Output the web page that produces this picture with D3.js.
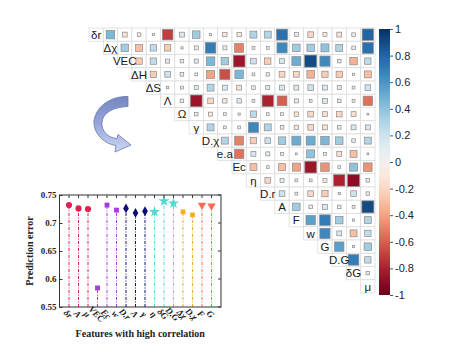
<!DOCTYPE html>
<html>
<head>
<meta charset="utf-8">
<script src="https://cdn.jsdelivr.net/npm/d3@7"></script>
<style>
body { margin: 0; background: #fff; }
svg { display: block; }
</style>
</head>
<body>
<svg id="chart" width="464" height="354"></svg>
<script>
// ---- data ----
const features = ["δr","Δχ","VEC","ΔH","ΔS","Λ","Ω","γ","D.χ","e.a","Ec","η","D.r","A","F","w","G","D.G","δG","μ"];

// upper triangle: row i holds r(i, j) for j = i+1 .. 19
const corrRows = [
  [0.45,-0.15,-0.08,0.03,-0.7,0.15,0.35,0.03,-0.12,-0.12,0.3,0.3,0.75,0.1,-0.2,-0.1,-0.15,0.08,0.8],
  [0.35,-0.3,0.25,-0.25,0.03,0.1,0.7,0.1,-0.5,0.05,0.05,0.65,0.35,0.35,0.4,0.3,0.08,0.75],
  [-0.25,0.25,0.1,0.08,0.1,0.45,0.35,-0.85,0.2,-0.25,0.15,0.5,0.9,0.65,0.08,-0.35,0.25],
  [-0.25,0.2,0.08,0.05,-0.4,-0.65,0.45,0.05,0.07,-0.2,-0.2,-0.35,-0.25,-0.25,0.03,-0.3],
  [0.03,0.05,0.1,0.3,0.15,-0.15,0.08,0.1,0.15,0.15,0.2,0.15,0.1,0.05,0.2],
  [0.08,-0.85,-0.2,-0.12,0.12,0.05,-0.8,-0.6,0.1,0.05,0.15,0.08,0.05,-0.55],
  [0.08,-0.1,0.05,0.03,0.25,0.05,0.05,-0.12,-0.2,-0.15,-0.2,-0.15,0.02],
  [0.3,0.05,0.05,0.65,0.3,0.08,-0.12,-0.2,-0.15,0.08,0.15,0.15],
  [0.3,-0.5,-0.25,0.2,0.35,0.5,0.5,0.45,0.35,0.08,0.3],
  [-0.55,0.15,0.1,0.05,0.02,0.4,0.05,-0.15,-0.3,0.02],
  [-0.3,0.05,-0.3,-0.4,-0.85,-0.45,0.05,0.4,-0.45],
  [-0.2,0.1,0.05,0.05,-0.1,-0.8,-0.9,0.08],
  [0.2,0.05,-0.2,-0.25,0.03,0.2,0.08],
  [0.35,0.08,0.15,0.08,0.05,0.9],
  [0.55,0.7,0.35,0.03,0.3],
  [0.65,0.15,-0.3,0.25],
  [0.55,0.03,0.35],
  [0.7,0.25],
  [0.08]
];

const cbTicks = [1,0.8,0.6,0.4,0.2,0,-0.2,-0.4,-0.6,-0.8,-1];

const lolliFeatures = ["δr","A","μ","VEC","Ec","w","D.r","Λ","γ","η","δG","D.G","Δχ","D.χ","F","G"];
const lolliErrors   = [0.732,0.726,0.725,0.584,0.732,0.723,0.726,0.718,0.721,0.720,0.739,0.735,0.720,0.7145,0.732,0.7305];
const lolliGroups   = [0,0,0,1,1,1,2,2,2,3,3,3,4,4,5,5];
const groupColors   = ["#e0224e","#a23de0","#0a0f7a","#4fd9cf","#f6ab1f","#ff6a55"];
const errTicks = [0.55,0.6,0.65,0.7,0.75];

const svg = d3.select("#chart");

// ---- correlation matrix ----
const x = d3.scaleBand().domain(d3.range(20)).range([89, 375]);
const y = d3.scaleBand().domain(d3.range(20)).range([28, 293]);
const color = d3.scaleSequential(d3.interpolateRdBu).domain([-1, 1]);

const cells = [];
corrRows.forEach((row, i) => {
  row.forEach((v, k) => cells.push({i: i, j: i + 1 + k, v: v}));
});

const gm = svg.append("g");

// grid of upper triangle (incl. diagonal)
const gridCells = [];
for (let i = 0; i < 20; i++) for (let j = i; j < 20; j++) gridCells.push({i, j});
gm.selectAll("rect.grid")
  .data(gridCells)
  .join("rect")
    .attr("class", "grid")
    .attr("x", d => x(d.j))
    .attr("y", d => y(d.i))
    .attr("width", x.bandwidth())
    .attr("height", y.bandwidth())
    .attr("fill", "#fff")
    .attr("stroke", "#dcdcdc")
    .attr("stroke-width", 0.8);

const maxSide = Math.min(x.bandwidth(), y.bandwidth()) - 0.6;
const side = d => maxSide * Math.sqrt(Math.abs(d.v));
gm.selectAll("rect.sq")
  .data(cells)
  .join("rect")
    .attr("class", "sq")
    .attr("x", d => x(d.j) + x.bandwidth() / 2 - side(d) / 2)
    .attr("y", d => y(d.i) + y.bandwidth() / 2 - side(d) / 2)
    .attr("width", side)
    .attr("height", side)
    .attr("fill", d => color(d.v))
    .attr("stroke", "#8a8a8a")
    .attr("stroke-width", 0.7);

gm.selectAll("text.lab")
  .data(features)
  .join("text")
    .attr("class", "lab")
    .attr("x", (d, i) => x(i) + x.bandwidth() / 2)
    .attr("y", (d, i) => y(i) + y.bandwidth() / 2)
    .attr("dy", "0.36em")
    .attr("text-anchor", "middle")
    .attr("font-family", "Liberation Sans, Arial, sans-serif")
    .attr("font-size", 11.5)
    .attr("fill", "#1a1a1a")
    .text(d => d);

// ---- colour bar ----
const cy = d3.scaleLinear().domain([-1, 1]).range([295, 29]);
const defs = svg.append("defs");
const grad = defs.append("linearGradient")
  .attr("id", "cb").attr("x1", 0).attr("y1", 1).attr("x2", 0).attr("y2", 0);
d3.range(0, 1.0001, 0.05).forEach(t => {
  grad.append("stop").attr("offset", t).attr("stop-color", d3.interpolateRdBu(t));
});
svg.append("rect")
  .attr("x", 379).attr("y", cy(1))
  .attr("width", 11).attr("height", cy(-1) - cy(1))
  .attr("fill", "url(#cb)");

const cbAxis = svg.append("g")
  .attr("transform", "translate(390,0)")
  .call(d3.axisRight(cy).tickValues(cbTicks).tickSize(3).tickPadding(2)
    .tickFormat(d => String(+d.toFixed(1))));
cbAxis.select(".domain").remove();
cbAxis.selectAll("line").attr("stroke", "#555");
cbAxis.selectAll("text")
  .attr("font-family", "Liberation Sans, Arial, sans-serif")
  .attr("font-size", 11)
  .attr("fill", "#222");

// ---- curved arrow ----
const ag = defs.append("linearGradient")
  .attr("id", "arrowGrad").attr("x1", 0).attr("y1", 0).attr("x2", 0).attr("y2", 1);
ag.append("stop").attr("offset", 0).attr("stop-color", "#7586c0");
ag.append("stop").attr("offset", 0.5).attr("stop-color", "#97a7da");
ag.append("stop").attr("offset", 1).attr("stop-color", "#cdd7f2");
svg.append("path")
  .attr("d", "M128,96.5 C111,96 96,106 94,121 C93,133 104,144 116,145.5 L115,152 L131,145 L118,134.5 L117,138.5 C108,138 101,131 102,122 C103,113 113,107 128,106.5 Z")
  .attr("fill", "url(#arrowGrad)")
  .attr("stroke", "#6878b2")
  .attr("stroke-width", 0.8);

// ---- prediction error lollipop ----
const px = d3.scaleLinear().domain([0, 17]).range([59.5, 221]);
const py = d3.scaleLinear().domain([0.55, 0.75]).range([307, 195]);
const gl = svg.append("g");
const serif = "Liberation Serif, Times New Roman, serif";

gl.selectAll("line.stem")
  .data(lolliErrors)
  .join("line")
    .attr("x1", (d, i) => px(i + 1)).attr("x2", (d, i) => px(i + 1))
    .attr("y1", py(0.55)).attr("y2", d => py(d))
    .attr("stroke", (d, i) => groupColors[lolliGroups[i]])
    .attr("stroke-width", 1)
    .attr("stroke-dasharray", "3,1.5,1,1.5");

const shapes = [d3.symbolCircle, d3.symbolSquare, d3.symbolDiamond, d3.symbolStar, d3.symbolSquare, d3.symbolTriangle];
const sizes = [30, 24, 28, 38, 22, 30];
gl.selectAll("path.mk")
  .data(lolliErrors)
  .join("path")
    .attr("transform", (d, i) => "translate(" + px(i + 1) + "," + py(d) + ")" + (lolliGroups[i] === 5 ? " rotate(180)" : ""))
    .attr("d", (d, i) => d3.symbol(shapes[lolliGroups[i]], sizes[lolliGroups[i]])())
    .attr("fill", (d, i) => groupColors[lolliGroups[i]]);

// box
gl.append("rect")
  .attr("x", px(0)).attr("y", py(0.75))
  .attr("width", px(17) - px(0)).attr("height", py(0.55) - py(0.75))
  .attr("fill", "none").attr("stroke", "#333").attr("stroke-width", 1);

const yAx = gl.append("g")
  .attr("transform", "translate(" + px(0) + ",0)")
  .call(d3.axisLeft(py).tickValues(errTicks).tickSize(-3).tickPadding(3)
    .tickFormat(d => String(+d.toFixed(2))));
yAx.select(".domain").remove();
yAx.selectAll("line").attr("stroke", "#333");
yAx.selectAll("text").attr("font-family", serif).attr("font-weight", "bold").attr("font-size", 9).attr("fill", "#222");

// right-side inward ticks
gl.selectAll("line.rt")
  .data(errTicks)
  .join("line")
    .attr("x1", px(17)).attr("x2", px(17) - 3)
    .attr("y1", d => py(d)).attr("y2", d => py(d))
    .attr("stroke", "#333");

// x ticks on top, inward
gl.selectAll("line.bt")
  .data(lolliFeatures)
  .join("line")
    .attr("x1", (d, i) => px(i + 1)).attr("x2", (d, i) => px(i + 1))
    .attr("y1", py(0.75)).attr("y2", py(0.75) + 3)
    .attr("stroke", "#333");

gl.selectAll("text.xl")
  .data(lolliFeatures)
  .join("text")
    .attr("class", "xl")
    .attr("transform", (d, i) => "translate(" + (px(i + 1) - 1) + "," + (py(0.55) + 7) + ") rotate(45)")
    .attr("dy", "0.35em")
    .attr("text-anchor", "middle")
    .attr("font-family", serif)
    .attr("font-style", "italic")
    .attr("font-weight", "bold")
    .attr("font-size", 9)
    .attr("fill", "#222")
    .text(d => d);

gl.append("text")
  .attr("transform", "translate(33," + py(0.65) + ") rotate(-90)")
  .attr("text-anchor", "middle")
  .attr("font-family", serif)
  .attr("font-weight", "bold")
  .attr("font-size", 10)
  .attr("fill", "#222")
  .text("Prediction error");

gl.append("text")
  .attr("x", (px(0) + px(17)) / 2)
  .attr("y", 337)
  .attr("text-anchor", "middle")
  .attr("font-family", serif)
  .attr("font-weight", "bold")
  .attr("font-size", 10)
  .attr("fill", "#222")
  .text("Features with high correlation");
</script>
</body>
</html>
